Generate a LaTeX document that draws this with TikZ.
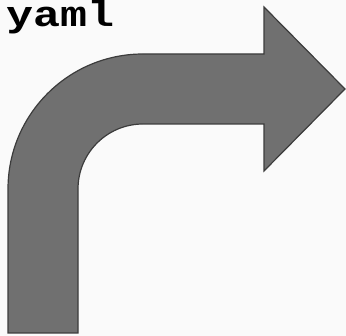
\documentclass[tikz,border=0pt]{standalone}
\usepackage{fontspec}
\newfontfamily\monob{Liberation Mono}[BoldFont={Liberation Mono Bold},BoldFeatures={FakeStretch=1.25}]
\definecolor{bg}{HTML}{FAFAFA}
\definecolor{arrowfill}{HTML}{707070}
\definecolor{arrowline}{HTML}{3C3C3C}
\begin{document}
\begin{tikzpicture}[x=1pt,y=1pt,
  bigarrow/.style={fill=arrowfill,draw=arrowline,line width=1.2pt,line join=miter},
  label/.style={inner sep=0pt,anchor=base west,font=\monob\bfseries\fontsize{36}{36}\selectfont}]
\fill[bg] (0,0) rectangle (346,336);
\useasboundingbox (0,0) rectangle (346,336);
\draw[bigarrow] (8,3) -- (8,147) arc[start angle=180,end angle=90,radius=135]
  -- (264,282) -- (264,329) -- (345,247) -- (264,165) -- (264,212) -- (143,212)
  arc[start angle=90,end angle=180,radius=65] -- (78,3) -- cycle;
\node[label] (t) at (6,309) {yaml};
\end{tikzpicture}
\end{document}
